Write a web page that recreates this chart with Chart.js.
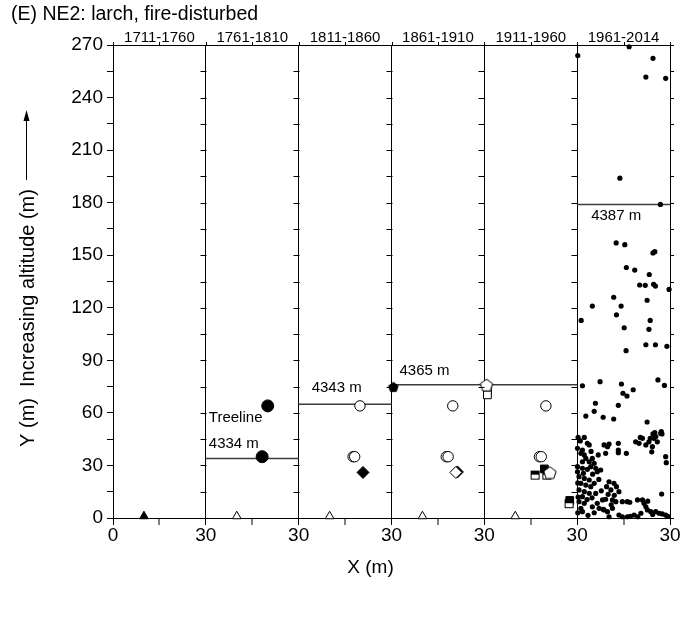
<!DOCTYPE html>
<html>
<head>
<meta charset="utf-8">
<script src="https://cdn.jsdelivr.net/npm/chart.js@4"></script>
<style>
  html, body { margin: 0; padding: 0; background: #fff; }
  #wrap { width: 683px; height: 618px; }
</style>
</head>
<body>
<div id="wrap"><canvas id="treeChart" width="683" height="618"></canvas></div>
<script>
// Time windows, one panel each (x runs 0-30 m inside every panel)
const periods = ['1711-1760', '1761-1810', '1811-1860', '1861-1910', '1911-1960', '1961-2014'];

// Treeline position per panel (Y in m) and its altitude label
const treelineY = [null, 34, 65, 76, 76, 179];
const treelineLabels = [null, '4334 m', '4343 m', '4365 m', null, '4387 m'];

// Individual trees: [panel, x, y]
const filledTriangles = [[0, 10, 1]];
const openTriangles = [[1, 10, 1], [2, 10, 1], [3, 10, 1], [4, 10, 1]];
const bigDots = [[1, 20, 64], [1, 18.2, 35]];
const openCircles = [
  [2, 19.8, 64], [2, 17.6, 35], [2, 18.1, 35],
  [3, 19.8, 64], [3, 17.7, 35], [3, 18.3, 35],
  [4, 19.9, 64], [4, 17.8, 35], [4, 18.4, 35]
];
const filledDiamonds = [[2, 20.8, 26], [3, 21.3, 26.3]];
const openDiamonds = [[3, 20.8, 26]];
const filledPentagons = [[3, 0.6, 75]];
const openPentagons = [[4, 0.7, 76], [4, 21.2, 26]];
const openSquares = [[4, 1, 72.8], [4, 1, 70.3]];
const halfSquares = [[4, 16.4, 24.5], [4, 20.2, 24.5], [4, 27.4, 8.2]];
const filledSquares = [[4, 19.4, 28], [4, 27.6, 10]];

// Small trees of the last period
const recentTrees = [
  [16.8, 269], [0.2, 264], [24.5, 262.4], [22.2, 251.7], [28.6, 251], [13.8, 194], [26.9, 179],
  [12.6, 157], [15.4, 156], [24.5, 151.3], [25.1, 152], [15.9, 143], [18.6, 141.5], [23.3, 139],
  [20.2, 133], [22.0, 132.8], [24.7, 133.4], [25.3, 132.4], [29.7, 130.5], [11.8, 126], [22.6, 124.3],
  [4.9, 121], [14.2, 121], [12.7, 116], [1.3, 112.8], [23.6, 112.8], [15.2, 108.6], [23.2, 107.7],
  [22.2, 98.9], [25.3, 98.9], [29, 98], [15.8, 95.5],
  [1.7, 75.5], [7.4, 77.8], [14.3, 76.5], [26.1, 78.8], [28.2, 75.7], [18.1, 73.2], [14.8, 71.2],
  [16.1, 69.6], [5.9, 65.5], [13.3, 64.3], [5.5, 60.9], [2.8, 58.2], [8.4, 57.5], [11.8, 56.5], [22.6, 54.8],
  [0.3, 46], [2.3, 46], [20.4, 46], [23.6, 45.5], [24.5, 48], [25.1, 48.7], [27.2, 49.3], [27.4, 48],
  [18.9, 43.5], [20, 42.6], [21.1, 45.5], [22.2, 41.7], [23.2, 43.5], [24.3, 40.7], [24.8, 45.5],
  [25.9, 43.5], [25.4, 46.5], [27, 48.3], [24.1, 37.8], [28.6, 35], [28.8, 31.6],
  [0.1, 39.8], [1.7, 38.8], [3.3, 42.6], [3.9, 41.7], [1.2, 36.9], [2.3, 36], [2.8, 34], [1.7, 32.1],
  [3.9, 32.1], [4.9, 34], [5.5, 31.2], [4.4, 29.3], [6, 28.4], [7.6, 27.4], [6.5, 26.4], [3.3, 27.8],
  [1.7, 28.4], [0.1, 29.3], [0.1, 26.4], [0.6, 23.6], [2.3, 22.6], [3.9, 21.7], [1.2, 19.8], [2.8, 18.8],
  [4.4, 17.9], [5.5, 19.8], [0.6, 16], [2.3, 15], [3.9, 14.1], [1.7, 12.2], [0.6, 9.3], [2.3, 8.4],
  [1.2, 5.5], [1.7, 3.6], [4.9, 6.4], [6.5, 8.4], [7.1, 5.5], [8.2, 10.3], [9.2, 10.7], [8.7, 4.6],
  [10.3, 0.7], [9.8, 3.6], [0.2, 20], [0.3, 12], [0.2, 3],
  [1, 44], [4.5, 38], [6.8, 36], [5, 25], [7, 22], [2, 25.5], [3.2, 10.5], [4.8, 11.5], [6, 14],
  [7.8, 15.5], [5.5, 3], [3.5, 1.5],
  [9.2, 36.9], [8.7, 41.7], [9.8, 40.7], [10.3, 42.2], [13.3, 42.6], [13.3, 38.8], [13.3, 37.3], [15.9, 36.9],
  [10.3, 20.7], [11.9, 19.8], [12.7, 17.9], [9.5, 17.9], [10.9, 16], [13.5, 15], [12, 13], [10, 13.5],
  [11.4, 10.3], [12.5, 9.3], [14.6, 9.3], [16.2, 9.3], [17, 9], [19.5, 10.3], [21.1, 10.3], [21.6, 8.4],
  [22.2, 6.4], [22.7, 4.6], [23.8, 3.6], [25.4, 3.6], [26.5, 2.7], [27.5, 2.3], [28.6, 1.7], [27.3, 13.7],
  [13.5, 1.7], [14.6, 0.7], [16.2, 0.7], [17.2, 1], [18.4, 1.7], [19.6, 0.7], [20.6, 2.7], [11.4, 5.5], [8.4, 5],
  [11, 7.5], [22.8, 9.6], [24.4, 2], [29.3, 1]
];

const PANEL_W = 30;
const FONT = 'Arial, "Liberation Sans", sans-serif';

// panel-local [p, x, y] -> chart point
const toPts = rows => rows.map(([p, x, y]) => ({ x: p * PANEL_W + x, y }));

function pentagon(r, fill) {
  const c = document.createElement('canvas');
  const s = Math.ceil(r * 2 + 3);
  c.width = c.height = s;
  const g = c.getContext('2d');
  g.beginPath();
  for (let i = 0; i < 5; i++) {
    const a = -Math.PI / 2 + i * 2 * Math.PI / 5;
    const px = s / 2 + r * Math.cos(a), py = s / 2 + 0.8 + r * Math.sin(a);
    i ? g.lineTo(px, py) : g.moveTo(px, py);
  }
  g.closePath();
  g.fillStyle = fill;
  g.fill();
  g.strokeStyle = '#000';
  g.lineWidth = 1;
  g.stroke();
  return c;
}

function halfSquare(size) {
  const c = document.createElement('canvas');
  c.width = c.height = size + 2;
  const g = c.getContext('2d');
  g.fillStyle = '#fff';
  g.fillRect(1, 1, size, size);
  g.fillStyle = '#000';
  g.fillRect(1, 1, size, size * 0.45);
  g.strokeStyle = '#000';
  g.lineWidth = 1;
  g.strokeRect(1.5, 1.5, size - 1, size - 1);
  return c;
}

function marker(label, rows, style, radius, fill, extra) {
  return Object.assign({
    type: 'scatter',
    label,
    data: toPts(rows),
    pointStyle: style,
    pointRadius: radius,
    backgroundColor: fill,
    borderColor: '#000',
    borderWidth: 1,
    clip: false
  }, extra || {});
}

const datasets = [
  marker('open diamond', openDiamonds, 'rectRot', 6, '#fff'),
  marker('filled diamond', filledDiamonds, 'rectRot', 6, '#000'),
  marker('open pentagon', openPentagons, pentagon(6.5, '#fff'), 6, '#fff'),
  marker('filled pentagon', filledPentagons, pentagon(5, '#000'), 5, '#000'),
  marker('half square', halfSquares, halfSquare(9), 5, '#fff'),
  marker('filled square', filledSquares, 'rect', 5.5, '#000'),
  marker('open square', openSquares, 'rect', 5.5, '#fff'),
  marker('open circle', openCircles, 'circle', 5.2, '#fff'),
  marker('big dot', bigDots, 'circle', 6, '#000'),
  marker('filled triangle', filledTriangles, 'triangle', 5, '#000'),
  marker('open triangle', openTriangles, 'triangle', 5, '#fff'),
  marker('1961-2014', recentTrees.map(([x, y]) => [5, x, y]), 'circle', 2.6, '#000', { borderWidth: 0 })
];

// treeline segments, one per panel
treelineY.forEach((y, p) => {
  if (y == null) return;
  datasets.push({
    type: 'line',
    label: 'treeline ' + periods[p],
    data: [{ x: p * PANEL_W, y }, { x: (p + 1) * PANEL_W, y }],
    borderColor: '#3c3c3c',
    borderWidth: 1.5,
    pointRadius: 0
  });
});

// titles, annotations and inner panel ticks
const decorations = {
  id: 'decorations',
  afterDraw(chart) {
    const { ctx, chartArea: ca, scales: { x, y } } = chart;
    ctx.save();
    ctx.fillStyle = '#000';
    ctx.strokeStyle = '#000';

    ctx.font = '19.5px ' + FONT;
    ctx.textAlign = 'left';
    ctx.textBaseline = 'middle';
    ctx.fillText('(E) NE2: larch, fire-disturbed', 11, 15);

    // y ticks along every panel border
    ctx.lineWidth = 1;
    for (let p = 1; p < periods.length; p++) {
      const xp = Math.round(x.getPixelForValue(p * PANEL_W)) + 0.5;
      for (let v = 0; v <= 270; v += 15) {
        const yp = Math.round(y.getPixelForValue(v)) + 0.5;
        ctx.beginPath();
        ctx.moveTo(xp - 6, yp);
        ctx.lineTo(xp, yp);
        ctx.stroke();
      }
    }
    for (let v = 0; v <= 270; v += 15) {
      const yp = Math.round(y.getPixelForValue(v)) + 0.5;
      ctx.beginPath();
      ctx.moveTo(ca.right, yp);
      ctx.lineTo(ca.right + 4, yp);
      ctx.stroke();
    }
    // small ticks on the top frame
    for (let v = 0; v <= 180; v += 15) {
      const xp = Math.round(x.getPixelForValue(v)) + 0.5;
      ctx.beginPath();
      ctx.moveTo(xp, ca.top);
      ctx.lineTo(xp, ca.top - 3);
      ctx.stroke();
    }

    // treeline altitude labels
    ctx.font = '15px ' + FONT;
    const offsets = [0, -15, -16, -14, 0, 11];
    const shifts = [0, 3, 13, 8, 0, 14];
    treelineLabels.forEach((txt, p) => {
      if (!txt) return;
      const lx = x.getPixelForValue(p * PANEL_W) + shifts[p];
      const ly = y.getPixelForValue(treelineY[p]) + offsets[p];
      ctx.fillText(txt, lx, ly);
    });
    ctx.fillText('Treeline', x.getPixelForValue(PANEL_W) + 3, y.getPixelForValue(treelineY[1]) - 41);

    // axis titles
    ctx.font = '19px ' + FONT;
    ctx.textAlign = 'center';
    ctx.fillText('X (m)', ca.left + (ca.right - ca.left) / 2 - 21, 568);

    ctx.save();
    ctx.translate(28, 318);
    ctx.rotate(-Math.PI / 2);
    ctx.font = '20px ' + FONT;
    ctx.fillText('Y (m)  Increasing altitude (m)', 0, 0);
    ctx.restore();

    ctx.lineWidth = 1;
    ctx.beginPath();
    ctx.moveTo(26.5, 180);
    ctx.lineTo(26.5, 118);
    ctx.stroke();
    ctx.beginPath();
    ctx.moveTo(26.5, 110);
    ctx.lineTo(23.5, 121);
    ctx.lineTo(29.5, 121);
    ctx.closePath();
    ctx.fill();

    ctx.restore();
  }
};

Chart.defaults.font.family = FONT;
Chart.defaults.color = '#000';

new Chart(document.getElementById('treeChart'), {
  type: 'scatter',
  data: { datasets },
  options: {
    responsive: false,
    animation: false,
    layout: { padding: 0 },
    plugins: { legend: { display: false }, tooltip: { enabled: false } },
    scales: {
      x: {
        type: 'linear',
        position: 'bottom',
        min: 0,
        max: 180,
        afterFit: s => { s.height = 100; },
        ticks: {
          stepSize: 15,
          autoSkip: false,
          maxRotation: 0,
          padding: -1,
          font: { size: 19 },
          callback: v => (v % 30 === 0 ? (v === 0 ? '0' : '30') : '')
        },
        grid: {
          color: '#000',
          lineWidth: c => (c.tick && c.tick.value % 30 === 0 ? 1 : 0),
          tickColor: '#000',
          tickWidth: 1,
          tickLength: 7
        },
        border: { color: '#000', width: 1 }
      },
      x2: {
        type: 'linear',
        position: 'top',
        min: 0,
        max: 180,
        afterFit: s => { s.height = 45; },
        afterBuildTicks: s => { s.ticks = periods.map((_, i) => ({ value: i * PANEL_W + PANEL_W / 2 })); },
        ticks: {
          autoSkip: false,
          maxRotation: 0,
          padding: -2,
          font: { size: 15 },
          callback: (v, i) => periods[i]
        },
        grid: { drawOnChartArea: false, drawTicks: false },
        border: { color: '#000', width: 1 }
      },
      y: {
        type: 'linear',
        position: 'left',
        min: 0,
        max: 270,
        afterFit: s => { s.width = 113; },
        ticks: {
          stepSize: 15,
          autoSkip: false,
          padding: 4,
          font: { size: 19 },
          callback: v => (v % 30 === 0 ? String(v) : '')
        },
        grid: { drawOnChartArea: false, color: '#000', tickLength: 6 },
        border: { color: '#000', width: 1 }
      },
      y2: {
        type: 'linear',
        position: 'right',
        min: 0,
        max: 270,
        afterFit: s => { s.width = 13; },
        ticks: { display: false },
        grid: { drawOnChartArea: false, drawTicks: false },
        border: { color: '#000', width: 1 }
      }
    }
  },
  plugins: [decorations]
});
</script>
</body>
</html>
